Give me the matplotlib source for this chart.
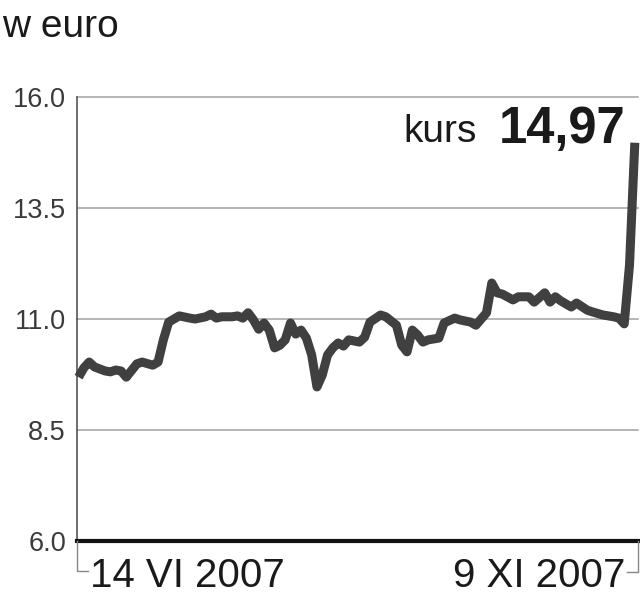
import matplotlib
matplotlib.use("Agg")
import matplotlib.pyplot as plt
from matplotlib.lines import Line2D

# sesje od 14 VI 2007 do 9 XI 2007 (indeks sesji) i kurs w euro
dni = [0, 1, 2, 3, 5, 6, 7, 8, 9, 11, 12, 14, 15, 16, 17, 18, 19, 21, 22, 24,
       25, 26, 27, 29, 30, 31, 32, 33, 34, 35, 36, 37, 38, 39, 40, 41, 42, 43,
       44, 45, 46, 47, 48, 49, 50, 51, 53, 54, 55, 57, 58, 60, 61, 62, 63, 64,
       65, 66, 68, 69, 71, 72, 74, 75, 77, 78, 79, 80, 82, 83, 85, 86, 88, 89,
       90, 91, 93, 94, 96, 97, 99, 101, 102, 103, 104, 105]
kurs = [9.69, 9.90, 10.03, 9.92, 9.83, 9.81, 9.85, 9.83, 9.69, 9.99, 10.03,
        9.96, 10.03, 10.53, 10.93, 11.00, 11.07, 11.02, 11.00, 11.05, 11.11,
        11.02, 11.05, 11.05, 11.07, 11.02, 11.14, 10.98, 10.77, 10.91, 10.75,
        10.35, 10.41, 10.53, 10.91, 10.66, 10.75, 10.57, 10.19, 9.47, 9.74,
        10.19, 10.35, 10.46, 10.39, 10.53, 10.48, 10.59, 10.93, 11.09, 11.05,
        10.86, 10.41, 10.26, 10.75, 10.64, 10.48, 10.53, 10.57, 10.91, 11.02,
        10.98, 10.93, 10.86, 11.14, 11.81, 11.59, 11.56, 11.43, 11.50, 11.50,
        11.38, 11.59, 11.38, 11.50, 11.41, 11.27, 11.36, 11.20, 11.16, 11.09,
        11.05, 11.02, 10.89, 12.22, 14.97]
y_ticks = [6.0, 8.5, 11.0, 13.5, 16.0]
data_od = "14 VI 2007"
data_do = "9 XI 2007"
ostatni = "14,97"

W, H = 640, 598
fig = plt.figure(figsize=(W / 100, H / 100), dpi=100)
ax = fig.add_axes([77 / W, 1 - 541 / H, 561 / W, 444 / H])

font = "Liberation Sans"

for v in y_ticks[1:]:
    ax.axhline(v, color="#a0a0a0", lw=1.1, clip_on=False, zorder=1)

ax.plot(dni, kurs, color="#404040", lw=6.5, solid_joinstyle="round",
        solid_capstyle="butt", clip_on=False, zorder=3)

ax.set_xlim(-0.3, 105.6)
ax.set_ylim(6, 16)
ax.set_xticks([])
ax.set_yticks(y_ticks)
ax.set_yticklabels([f"{v:.1f}" for v in y_ticks], fontsize=19.5,
                   family=font, color="#3a3a3a")
ax.tick_params(axis="y", length=0, pad=8)
for s in ("top", "right"):
    ax.spines[s].set_visible(False)
ax.spines["left"].set_color("#555555")
ax.spines["left"].set_linewidth(1.2)
ax.spines["bottom"].set_color("#111111")
ax.spines["bottom"].set_linewidth(3)
ax.spines["bottom"].set_zorder(4)


def fx(px):
    return px / W


def fy(py):
    return 1 - py / H


# klamry pod osią
fig.add_artist(Line2D([fx(77), fx(77), fx(88)], [fy(541), fy(571), fy(571)],
                      color="#888888", lw=1.0))
fig.add_artist(Line2D([fx(638), fx(638), fx(627)], [fy(541), fy(572), fy(572)],
                      color="#888888", lw=1.0))

fig.text(fx(2), fy(37), "w euro", fontsize=28, family=font, color="#1a1a1a",
         va="baseline", ha="left")
fig.text(fx(90), fy(587), data_od, fontsize=29, family=font, color="#1a1a1a",
         va="baseline", ha="left")
fig.text(fx(625), fy(587), data_do, fontsize=29, family=font, color="#1a1a1a",
         va="baseline", ha="right")
fig.text(fx(403), fy(142), "kurs", fontsize=28, family=font, color="#1a1a1a",
         va="baseline", ha="left")
fig.text(fx(625), fy(143), ostatni, fontsize=36.5, family=font, weight="bold",
         color="#1a1a1a", va="baseline", ha="right")

fig.savefig("out.png", dpi=100)
